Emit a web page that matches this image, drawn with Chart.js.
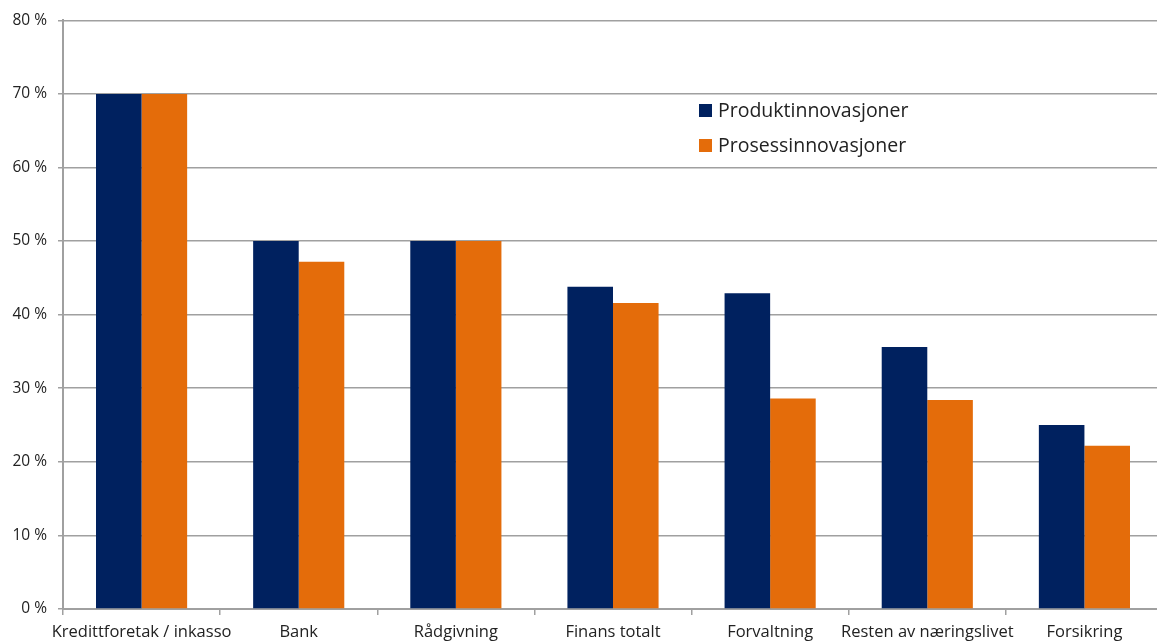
<!DOCTYPE html>
<html>
<head>
<meta charset="utf-8">
<script src="https://cdn.jsdelivr.net/npm/chart.js@4"></script>
<style>
  html, body { margin: 0; padding: 0; background: #fff; overflow: hidden; }
  #wrap { width: 1163px; height: 644px; }
</style>
</head>
<body>
<div id="wrap"><canvas id="chart" width="1163" height="644"></canvas></div>
<script>
const kategorier = ['Kredittforetak / inkasso', 'Bank', 'Rådgivning', 'Finans totalt', 'Forvaltning', 'Resten av næringslivet', 'Forsikring'];
const produkt = [70, 50, 50, 43.8, 42.9, 35.6, 25];
const prosess = [70, 47.2, 50, 41.6, 28.6, 28.4, 22.2];
const yTicks = [0, 10, 20, 30, 40, 50, 60, 70, 80];

const navy = '#00215f';
const orange = '#e46c0a';
const grid = '#a0a0a0';
const fontFam = '"Open Sans", "Liberation Sans", sans-serif';

// legend drawn inside the plot, like the original
const innerLegend = {
    id: 'innerLegend',
    afterDraw(chart) {
        const { ctx } = chart;
        ctx.save();
        ctx.font = '19.5px ' + fontFam;
        ctx.textBaseline = 'middle';
        chart.data.datasets.forEach((ds, i) => {
            const y = 111 + i * 35;
            ctx.fillStyle = ds.backgroundColor;
            ctx.fillRect(699, y - 7, 13, 13);
            ctx.fillStyle = '#222';
            ctx.fillText(ds.label, 718, y);
        });
        ctx.restore();
    }
}

const config = {
    type: 'bar',
    data: {
        labels: kategorier,
        datasets: [{
            label: 'Produktinnovasjoner',
            data: produkt,
            backgroundColor: navy,
            categoryPercentage: 0.58,
            barPercentage: 1
        }, {
            label: 'Prosessinnovasjoner',
            data: prosess,
            backgroundColor: orange,
            categoryPercentage: 0.58,
            barPercentage: 1
        }]
    },
    options: {
        responsive: false,
        animation: false,
        layout: { padding: { top: 19, right: 0, bottom: 0, left: 0 } },
        plugins: { legend: { display: false }, tooltip: { enabled: false } },
        scales: {
            x: {
                grid: { display: true, drawOnChartArea: false, offset: true, color: grid, lineWidth: 1.5, tickLength: 6 },
                border: { color: grid, width: 2 },
                ticks: { color: '#222', font: { family: fontFam, size: 16.5 }, padding: 7, maxRotation: 0, autoSkip: false },
                afterFit(s) { s.height = 35; }
            },
            y: {
                min: 0,
                max: 80,
                afterBuildTicks(s) { s.ticks = yTicks.map(v => ({ value: v })); },
                grid: { color: grid, lineWidth: 1.5, tickLength: 5 },
                border: { color: grid, width: 2 },
                ticks: {
                    color: '#222',
                    font: { family: fontFam, size: 15.5 },
                    padding: 11,
                    callback: v => v + ' %'
                },
                afterFit(s) { s.width = 63; }
            }
        }
    },
    plugins: [innerLegend]
}
var chart = document.getElementById('chart');
var myChart = new Chart(chart, config);
</script>
</body>
</html>
